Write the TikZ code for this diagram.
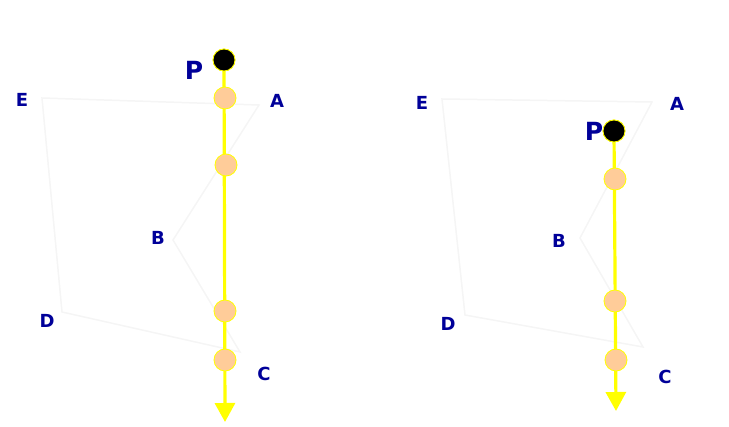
\documentclass[tikz,border=0pt]{standalone}
\usepackage{fontspec}
\setmainfont{DejaVu Sans}
\usetikzlibrary{arrows.meta}
\definecolor{lblue}{HTML}{000099}
\definecolor{dotorange}{HTML}{FFCC99}
\definecolor{ylw}{HTML}{FFFF00}
\definecolor{faint}{HTML}{F5F5F5}
\tikzset{
  lbl/.style={text=lblue, font=\bfseries\fontsize{18}{18}\selectfont, inner sep=0pt},
  plbl/.style={text=lblue, font=\bfseries\fontsize{25}{25}\selectfont, inner sep=0pt},
  dot/.style={circle, fill=dotorange, draw=ylw, line width=0.8pt, minimum size=22pt, inner sep=0pt},
  pdot/.style={circle, fill=black, draw=ylw, line width=0.8pt, minimum size=22pt, inner sep=0pt},
  ray/.style={draw=ylw, line width=3.2pt, -{Triangle[width=20pt,length=19pt]}},
  poly/.style={draw=faint, line width=1.5pt}
}
\begin{document}
\begin{tikzpicture}[x=1pt,y=-1pt]
\useasboundingbox (0,0) rectangle (729,427);
% left panel faint pentagon
\coordinate (lE) at (42,98);
\coordinate (lA) at (259,105);
\coordinate (lB) at (173,240);
\coordinate (lC) at (240,352);
\coordinate (lD) at (62,312);
\draw[poly] (lE) -- (lA) -- (lB) -- (lC) -- (lD) -- cycle;
\node[lbl] (labE1) at (22,100) {E};
\node[lbl] (labA1) at (277,101) {A};
\node[lbl] (labB1) at (158,238) {B};
\node[lbl] (labC1) at (264,374) {C};
\node[lbl] (labD1) at (47,321) {D};
% left ray
\node[pdot] (P1) at (224,60) {};
\coordinate (end1) at (225,422);
\draw[ray] (P1.center) -- (end1);
\node[pdot] (P1b) at (224,60) {};
\node[dot] (d11) at (225,98) {};
\node[dot] (d12) at (226,165) {};
\node[dot] (d13) at (225,311) {};
\node[dot] (d14) at (225,360) {};
\node[plbl] (labP1) at (194,70) {P};
% right panel faint pentagon
\coordinate (rE) at (442,99);
\coordinate (rA) at (652,102);
\coordinate (rB) at (580,238);
\coordinate (rC) at (643,347);
\coordinate (rD) at (465,315);
\draw[poly] (rE) -- (rA) -- (rB) -- (rC) -- (rD) -- cycle;
\node[lbl] (labE2) at (422,103) {E};
\node[lbl] (labA2) at (677,104) {A};
\node[lbl] (labB2) at (559,241) {B};
\node[lbl] (labC2) at (665,377) {C};
\node[lbl] (labD2) at (448,324) {D};
% right ray
\node[pdot] (P2) at (614,131) {};
\coordinate (end2) at (616,411);
\draw[ray] (P2.center) -- (end2);
\node[pdot] (P2b) at (614,131) {};
\node[dot] (d21) at (615,179) {};
\node[dot] (d22) at (615,301) {};
\node[dot] (d23) at (616,360) {};
\node[plbl] (labP2) at (594,131) {P};
\end{tikzpicture}
\end{document}
